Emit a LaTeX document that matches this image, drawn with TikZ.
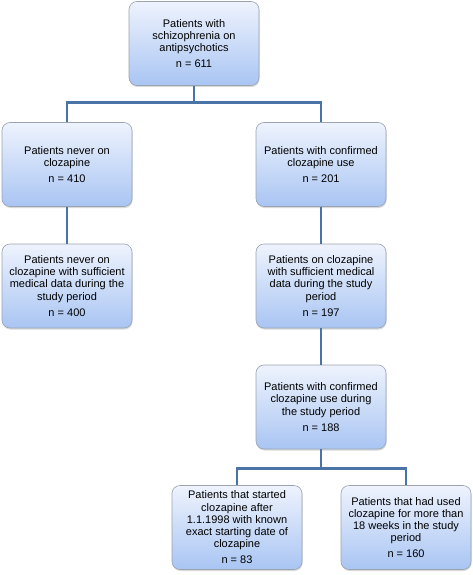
\documentclass[tikz,border=0pt]{standalone}
\usepackage{fontspec}
\setmainfont{Liberation Sans}
\usepackage{tikz}
\usetikzlibrary{shadows}
\definecolor{boxtop}{HTML}{EEF3FD}
\definecolor{boxbot}{HTML}{A9C5F3}
\definecolor{boxedge}{HTML}{9AA3B0}
\definecolor{linkblue}{HTML}{4A74A8}

\begin{document}
\begin{tikzpicture}[x=1pt,y=-1pt,
		stage/.style={rounded corners=8pt,draw=boxedge,line width=0.6pt,
			top color=boxtop,bottom color=boxbot,
			minimum width=130pt,minimum height=84pt,align=center,
			font=\fontsize{11}{12.2}\selectfont,
			drop shadow={shadow xshift=0.6pt,shadow yshift=-1.5pt,opacity=0.3}},
		link/.style={draw=linkblue,line width=2.8pt}]
		\useasboundingbox (0,0) rectangle (473,575);
		\node[stage] (all) at (194,43.5) {Patients with\\schizophrenia on\\antipsychotics\\[4pt]n = 611};
		\node[stage] (never) at (67,164.5) {Patients never on\\clozapine\\[4pt]n = 410};
		\node[stage] (conf) at (321,164.5) {Patients with confirmed\\clozapine use\\[4pt]n = 201};
		\node[stage] (neverdata) at (67,286) {Patients never on\\clozapine with sufficient\\medical data during the\\study period\\[4pt]n = 400};
		\node[stage] (confdata) at (321,286) {Patients on clozapine\\with sufficient medical\\data during the study\\period\\[4pt]n = 197};
		\node[stage] (period) at (321,407) {Patients with confirmed\\clozapine use during\\the study period\\[4pt]n = 188};
		\node[stage] (start) at (237,527.5) {Patients that started\\clozapine after\\1.1.1998 with known\\exact starting date of\\clozapine\\[4pt]n = 83};
		\node[stage] (weeks) at (406,527.5) {Patients that had used\\clozapine for more than\\18 weeks in the study\\period\\[4pt]n = 160};
		\draw[link] (all.south) -- ++(0,17) -| (never.north);
		\draw[link] (all.south) ++(0,17) -| (conf.north);
		\draw[link] (never) -- (neverdata);
		\draw[link] (conf) -- (confdata);
		\draw[link] (confdata) -- (period);
		\draw[link] (period.south) -- ++(0,19) -| (start.north);
		\draw[link] (period.south) ++(0,19) -| (weeks.north);
\end{tikzpicture}
\end{document}
